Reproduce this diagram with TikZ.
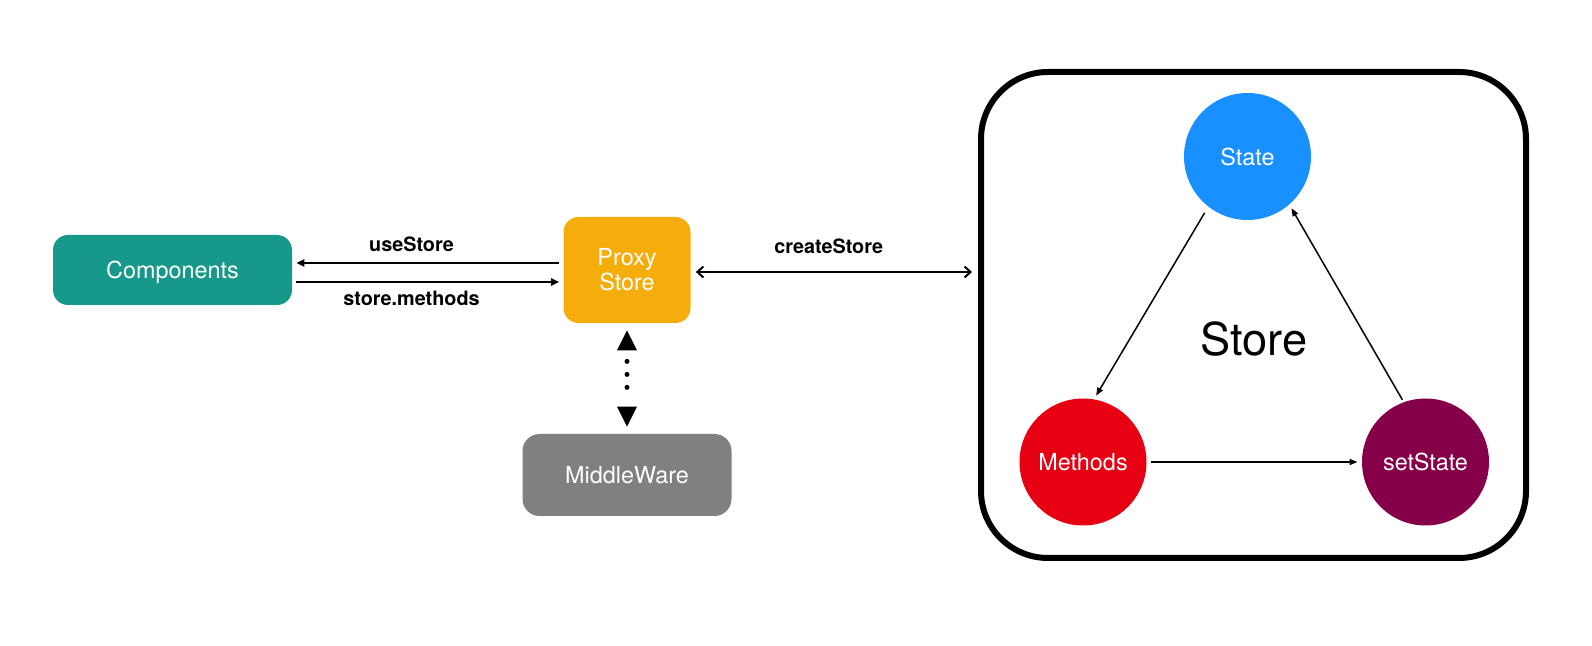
\documentclass[tikz,border=0pt]{standalone}
\usepackage{fontspec}
\setmainfont{TeX Gyre Heros}
\usetikzlibrary{arrows.meta}

\definecolor{compteal}{RGB}{22,153,138}
\definecolor{proxyorange}{RGB}{245,173,11}
\definecolor{mwgray}{RGB}{128,128,128}
\definecolor{stateblue}{RGB}{24,144,255}
\definecolor{methodred}{RGB}{230,0,18}
\definecolor{setpurple}{RGB}{133,0,73}

\tikzset{
	box/.style={rectangle, rounded corners=7.5pt, inner sep=0pt, text=white, align=center,
		font=\fontsize{11.7}{12.6}\selectfont},
	part/.style={circle, minimum size=63.5pt, inner sep=0pt, text=white,
		font=\fontsize{11.7}{13.2}\selectfont},
	lbl/.style={inner sep=0pt, font=\fontsize{9.9}{12}\selectfont\bfseries},
	conn/.style={line width=1pt, -{Triangle[length=4pt,width=3.5pt]}, shorten <=2pt, shorten >=2pt},
	flow/.style={line width=0.75pt, -{Triangle[length=4pt,width=3pt]}, shorten <=2pt, shorten >=2pt},
	dotconn/.style={line width=2.5pt, line cap=round,
		dash pattern=on 0pt off 6.5pt on 0pt off 6.5pt on 0pt off 30pt, dash phase=37.5pt,
		{Triangle[length=10pt,width=10pt,line width=0pt]}-{Triangle[length=10pt,width=10pt,line width=0pt]},
		shorten <=3.5pt, shorten >=3.5pt}
}

\begin{document}
\begin{tikzpicture}[x=0.5pt, y=-0.5pt]
	\useasboundingbox (0,0) rectangle (1592,646);

	% left side
	\node[box, fill=compteal, text depth=0pt, minimum width=119.5pt, minimum height=35pt] (comp) at (172.5,270) {Components};
	\node[box, fill=proxyorange, minimum width=63.5pt, minimum height=53pt] (proxy) at (627,270) {Proxy\\Store};
	\node[box, fill=mwgray, text depth=0pt, rounded corners=8.5pt, minimum width=104.5pt, minimum height=41pt] (mw) at (627,475) {MiddleWare};

	\draw[conn] ([yshift=3.5pt]proxy.west) -- ([yshift=3.5pt]comp.east)
		node[lbl, pos=0.56, above=5pt] {useStore};
	\draw[conn] ([yshift=-6pt]comp.east) -- ([yshift=-6pt]proxy.west)
		node[lbl, pos=0.44, below=4pt] {store.methods};
	\draw[dotconn] (proxy) -- (mw);

	% store
	\node[draw, line width=3pt, rounded corners=33.5pt, minimum width=272.5pt, minimum height=243pt] (storebox) at (1253.5,315) {};
	\node[font=\fontsize{22.6}{26}\selectfont] (storelabel) at (1254,339) {Store};
	\node[part, fill=stateblue] (state) at (1247.5,156.5) {State};
	\node[part, fill=methodred] (methods) at (1083,462) {Methods};
	\node[part, fill=setpurple] (setstate) at (1425.5,462) {setState};

	\draw[line width=1pt, {Straight Barb[length=3pt,width=5.5pt]}-{Straight Barb[length=3pt,width=5.5pt]}, shorten <=2.5pt, shorten >=3pt]
		([yshift=-1pt]proxy.east) -- ([yshift=-1pt]proxy.east -| storebox.west)
		node[lbl, pos=0.48, above=8.5pt] {createStore};

	\draw[flow, shorten <=3.5pt] (state.232) -- (methods.80);
	\draw[flow] (methods) -- (setstate);
	\draw[flow, shorten <=1.25pt] (setstate.110) -- (state.311);
\end{tikzpicture}
\end{document}
